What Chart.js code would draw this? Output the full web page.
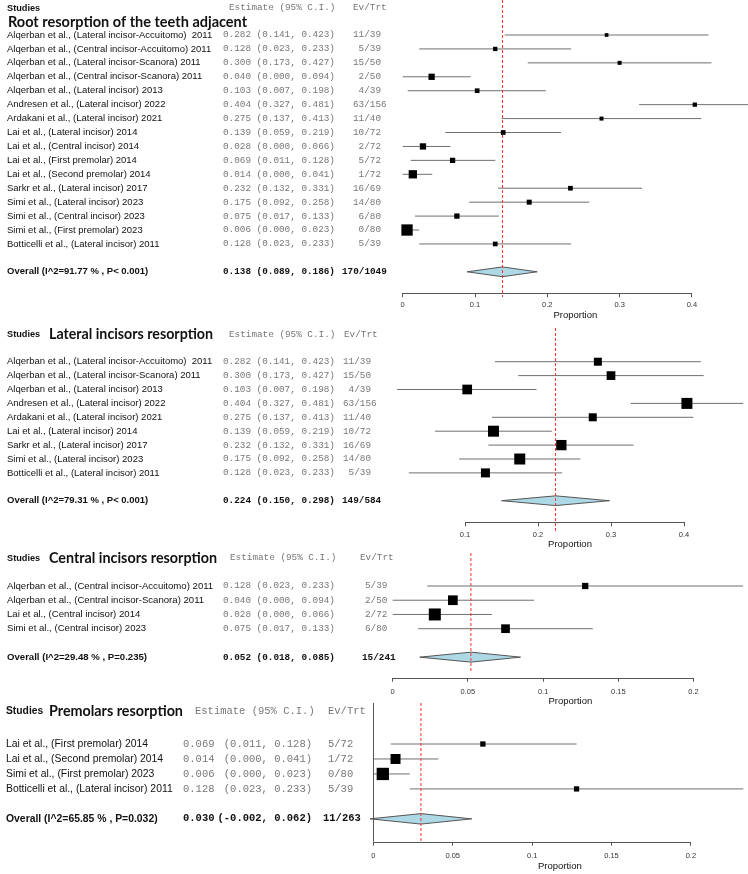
<!DOCTYPE html>
<html>
<head>
<meta charset="utf-8">
<script src="https://cdn.jsdelivr.net/npm/chart.js@4.4.0/dist/chart.umd.min.js"></script>
<style>
  body { margin: 0; background: #fff; }
  #wrap { position: relative; width: 748px; height: 874px; overflow: hidden; background: #fff; }
  canvas { position: absolute; left: 0; }
</style>
</head>
<body>
<div id="wrap">
  <canvas id="c1" width="748" height="330" style="top:0px"></canvas>
  <canvas id="c2" width="748" height="240" style="top:318px"></canvas>
  <canvas id="c3" width="748" height="166" style="top:545px"></canvas>
  <canvas id="c4" width="748" height="176" style="top:698px"></canvas>
</div>
<script>
// ---- data ----
const titles = ['Root resorption of the teeth adjacent', 'Lateral incisors resorption',
  'Central incisors resorption', 'Premolars resorption'];

const names1 = [
  'Alqerban et al., (Lateral incisor-Accuitomo)  2011',
  'Alqerban et al., (Central incisor-Accuitomo) 2011',
  'Alqerban et al., (Lateral incisor-Scanora) 2011',
  'Alqerban et al., (Central incisor-Scanora) 2011',
  'Alqerban et al., (Lateral incisor) 2013',
  'Andresen et al., (Lateral incisor) 2022',
  'Ardakani et al., (Lateral incisor) 2021',
  'Lai et al., (Lateral incisor) 2014',
  'Lai et al., (Central incisor) 2014',
  'Lai et al., (First premolar) 2014',
  'Lai et al., (Second premolar) 2014',
  'Sarkr et al., (Lateral incisor) 2017',
  'Simi et al., (Lateral incisor) 2023',
  'Simi et al., (Central incisor) 2023',
  'Simi et al., (First premolar) 2023',
  'Botticelli et al., (Lateral incisor) 2011'
];
const est1 = [0.282, 0.128, 0.300, 0.040, 0.103, 0.404, 0.275, 0.139, 0.028, 0.069, 0.014, 0.232, 0.175, 0.075, 0.006, 0.128];
const lo1  = [0.141, 0.023, 0.173, 0.000, 0.007, 0.327, 0.137, 0.059, 0.000, 0.011, 0.000, 0.132, 0.092, 0.017, 0.000, 0.023];
const hi1  = [0.423, 0.233, 0.427, 0.094, 0.198, 0.481, 0.413, 0.219, 0.066, 0.128, 0.041, 0.331, 0.258, 0.133, 0.023, 0.233];
const ev1  = [11, 5, 15, 2, 4, 63, 11, 10, 2, 5, 1, 16, 14, 6, 0, 5];
const n1   = [39, 39, 50, 50, 39, 156, 40, 72, 72, 72, 72, 69, 80, 80, 80, 39];
const wt1  = [3.7, 4.3, 4, 6.3, 4.7, 4.3, 4, 4.7, 6.3, 5.3, 8.3, 4.7, 5, 5.3, 11.3, 4.7];

const names2 = [
  'Alqerban et al., (Lateral incisor-Accuitomo)  2011',
  'Alqerban et al., (Lateral incisor-Scanora) 2011',
  'Alqerban et al., (Lateral incisor) 2013',
  'Andresen et al., (Lateral incisor) 2022',
  'Ardakani et al., (Lateral incisor) 2021',
  'Lai et al., (Lateral incisor) 2014',
  'Sarkr et al., (Lateral incisor) 2017',
  'Simi et al., (Lateral incisor) 2023',
  'Botticelli et al., (Lateral incisor) 2011'
];
const est2 = [0.282, 0.300, 0.103, 0.404, 0.275, 0.139, 0.232, 0.175, 0.128];
const lo2  = [0.141, 0.173, 0.007, 0.327, 0.137, 0.059, 0.132, 0.092, 0.023];
const hi2  = [0.423, 0.427, 0.198, 0.481, 0.413, 0.219, 0.331, 0.258, 0.233];
const ev2  = [11, 15, 4, 63, 11, 10, 16, 14, 5];
const n2   = [39, 50, 39, 156, 40, 72, 69, 80, 39];
const wt2  = [8, 8.7, 9.7, 11, 8, 11, 10.3, 11, 9];

const names3 = [
  'Alqerban et al., (Central incisor-Accuitomo) 2011',
  'Alqerban et al., (Central incisor-Scanora) 2011',
  'Lai et al., (Central incisor) 2014',
  'Simi et al., (Central incisor) 2023'
];
const est3 = [0.128, 0.040, 0.028, 0.075];
const lo3  = [0.023, 0.000, 0.000, 0.017];
const hi3  = [0.233, 0.094, 0.066, 0.133];
const ev3  = [5, 2, 2, 6];
const n3   = [39, 50, 72, 80];
const wt3  = [6.3, 9.7, 12, 8.7];

const names4 = [
  'Lai et al., (First premolar) 2014',
  'Lai et al., (Second premolar) 2014',
  'Simi et al., (First premolar) 2023',
  'Botticelli et al., (Lateral incisor) 2011'
];
const est4 = [0.069, 0.014, 0.006, 0.128];
const lo4  = [0.011, 0.000, 0.000, 0.023];
const hi4  = [0.128, 0.041, 0.023, 0.233];
const ev4  = [5, 1, 0, 5];
const n4   = [72, 72, 80, 39];
const wt4  = [5.3, 10, 12.3, 5.3];

const overallLabel = ['Overall (I^2=91.77 % , P< 0.001)', 'Overall (I^2=79.31 % , P< 0.001)',
  'Overall (I^2=29.48 % , P=0.235)', 'Overall (I^2=65.85 % , P=0.032)'];
const overallEst = [0.138, 0.224, 0.052, 0.030];
const overallLo  = [0.089, 0.150, 0.018, -0.002];
const overallHi  = [0.186, 0.298, 0.085, 0.062];
const overallEv  = [170, 149, 15, 11];
const overallN   = [1049, 584, 241, 263];

const ticks1 = [0, 0.1, 0.2, 0.3, 0.4];
const ticks2 = [0.1, 0.2, 0.3, 0.4];
const ticks3 = [0, 0.05, 0.1, 0.15, 0.2];
const ticks4 = [0, 0.05, 0.1, 0.15, 0.2];
const tickLabels1 = ['0', '0.1', '0.2', '0.3', '0.4'];
const tickLabels2 = ['0.1', '0.2', '0.3', '0.4'];
const tickLabels3 = ['0', '0.05', '0.1', '0.15', '0.2'];
const tickLabels4 = ['0', '0.05', '0.1', '0.15', '0.2'];

// ---- layout ----
const SANS = "'Liberation Sans', Arial, sans-serif";
const MONO = "'Liberation Mono', 'Courier New', monospace";
const AX_H = 30;

const panels = [
  { id: 'c1', k: 0, names: names1, est: est1, lo: lo1, hi: hi1, ev: ev1, n: n1, wt: wt1, ticks: ticks1, tickLabels: tickLabels1,
    top: 0, row0: 35, step: 13.93, chartTopY: 0, axisY: 293.3, redBottomY: 297,
    xMin: 0, xLeft: 402.7, unit: 723, tickPad: 3, titleOff: 22,
    headY: 8, titleY: 22, titleX: 8, titleW: 239, nameX: 7, nameSize: 9.5, studiesSize: 9.2, monoSize: 9.33,
    estHeadX: 229, cntHeadX: 353, estX: 223, ciX: 256.6, ciAlign: 'left', cntX: 353, cntPad: 5, oCntX: 342, zeroLine: false },
  { id: 'c2', k: 1, names: names2, est: est2, lo: lo2, hi: hi2, ev: ev2, n: n2, wt: wt2, ticks: ticks2, tickLabels: tickLabels2,
    top: 318, row0: 361.7, step: 13.9, chartTopY: 328, axisY: 522.3, redBottomY: 532,
    xMin: 0, xLeft: 392, unit: 730, tickPad: 4, titleOff: 21.7,
    headY: 334.3, titleY: 334.3, titleX: 49, titleW: 164, nameX: 7, nameSize: 9.5, studiesSize: 9.2, monoSize: 9.33,
    estHeadX: 229, cntHeadX: 344, estX: 223, ciX: 256.6, ciAlign: 'left', cntX: 343, cntPad: 5, oCntX: 342, zeroLine: false },
  { id: 'c3', k: 2, names: names3, est: est3, lo: lo3, hi: hi3, ev: ev3, n: n3, wt: wt3, ticks: ticks3, tickLabels: tickLabels3,
    top: 545, row0: 586, step: 14.23, chartTopY: 553, axisY: 677.7, redBottomY: 672,
    xMin: 0, xLeft: 392.7, unit: 1504, tickPad: 5.5, titleOff: 23.3,
    headY: 558, titleY: 558, titleX: 49, titleW: 168, nameX: 7, nameSize: 9.6, studiesSize: 9.2, monoSize: 9.33,
    estHeadX: 230, cntHeadX: 360, estX: 223, ciX: 256.6, ciAlign: 'left', cntX: 365, cntPad: 4, oCntX: 362, zeroLine: false },
  { id: 'c4', k: 3, names: names4, est: est4, lo: lo4, hi: hi4, ev: ev4, n: n4, wt: wt4, ticks: ticks4, tickLabels: tickLabels4,
    top: 698, row0: 744, step: 14.97, chartTopY: 703, axisY: 841.7, redBottomY: 841.7,
    xMin: -0.001, xLeft: 371.7, unit: 1588, tickPad: 6.2, titleOff: 24.3,
    headY: 711, titleY: 711, titleX: 49, titleW: 134, nameX: 6, nameSize: 10.4, studiesSize: 10.3, monoSize: 10.5,
    estHeadX: 195, cntHeadX: 328, estX: 183, ciX: 312, ciAlign: 'right', cntX: 328, cntPad: 4, oCntX: 323, zeroLine: true }
];

function fmt(v) { return v.toFixed(3); }

function fitFont(ctx, text, weight, family, width) {
  ctx.font = weight + ' 20px ' + family;
  const s = 20 * width / ctx.measureText(text).width;
  return weight + ' ' + s.toFixed(2) + 'px ' + family;
}

function tablePlugin(p) {
  return {
    id: 'table' + p.k,
    afterDraw(chart) {
      const ctx = chart.ctx, ys = chart.scales.y, xs = chart.scales.x;
      ctx.save();
      // axis line from first to last tick
      ctx.strokeStyle = '#555';
      ctx.lineWidth = 1;
      ctx.beginPath();
      ctx.moveTo(xs.getPixelForValue(p.ticks[0]), Math.round(xs.top) + 0.5);
      ctx.lineTo(xs.getPixelForValue(p.ticks[p.ticks.length - 1]), Math.round(xs.top) + 0.5);
      ctx.stroke();
      if (p.zeroLine) {
        const x0 = Math.round(xs.getPixelForValue(0)) + 0.5;
        ctx.beginPath();
        ctx.moveTo(x0, chart.chartArea.top);
        ctx.lineTo(x0, xs.top);
        ctx.stroke();
      }

      ctx.textBaseline = 'middle';
      ctx.textAlign = 'left';
      const hy = p.headY - p.top;
      ctx.fillStyle = '#111';
      ctx.font = 'bold ' + p.studiesSize + 'px ' + SANS;
      ctx.fillText('Studies', p.nameX, hy);
      ctx.font = fitFont(ctx, titles[p.k], 'bold', "Lato, 'Open Sans', sans-serif", p.titleW);
      ctx.fillText(titles[p.k], p.titleX, p.titleY - p.top);
      ctx.fillStyle = '#777';
      ctx.font = p.monoSize + 'px ' + MONO;
      ctx.fillText('Estimate (95% C.I.)', p.estHeadX, hy);
      ctx.fillText('Ev/Trt', p.cntHeadX, hy);

      const row = (i, name, e, lo, hi, cnt, cntX, bold) => {
        const y = ys.getPixelForValue(i);
        ctx.fillStyle = '#111';
        ctx.textAlign = 'left';
        ctx.font = (bold ? 'bold ' : '') + p.nameSize + 'px ' + SANS;
        ctx.fillText(name, p.nameX, y);
        ctx.fillStyle = bold ? '#111' : '#777';
        ctx.font = (bold ? 'bold ' : '') + p.monoSize + 'px ' + MONO;
        ctx.fillText(fmt(e), p.estX, y);
        ctx.textAlign = p.ciAlign;
        ctx.fillText('(' + fmt(lo) + ', ' + fmt(hi) + ')', p.ciX, y);
        ctx.textAlign = 'left';
        ctx.fillText(cnt, cntX, y);
      };
      p.names.forEach((nm, i) => {
        row(i, nm, p.est[i], p.lo[i], p.hi[i], (p.ev[i] + '/' + p.n[i]).padStart(p.cntPad, ' '), p.cntX, false);
      });
      row(p.names.length + 1, overallLabel[p.k], overallEst[p.k], overallLo[p.k], overallHi[p.k],
        overallEv[p.k] + '/' + overallN[p.k], p.oCntX, true);
      ctx.restore();
    }
  };
}

function makeChart(p) {
  const canvas = document.getElementById(p.id);
  const H = canvas.height, T = p.top;
  const nRows = p.names.length;
  const rowOf = y => (y - p.row0) / p.step;
  const yMin = rowOf(p.chartTopY), yMax = rowOf(p.axisY);
  const xMax = p.xMin + (748 - p.xLeft) / p.unit;

  const whisk = [];
  p.lo.forEach((lo, i) => { whisk.push({ x: lo, y: i }, { x: p.hi[i], y: i }, { x: null, y: null }); });
  const pts = p.est.map((e, i) => ({ x: e, y: i }));
  const oRow = nRows + 1, dh = 0.35;
  const oe = overallEst[p.k], ol = overallLo[p.k], oh = overallHi[p.k];
  const diamond = [{ x: ol, y: oRow }, { x: oe, y: oRow - dh }, { x: oh, y: oRow }, { x: oe, y: oRow + dh }, { x: ol, y: oRow }];
  const refLine = [{ x: oe, y: yMin }, { x: oe, y: rowOf(p.redBottomY) }];

  return new Chart(canvas.getContext('2d'), {
    type: 'scatter',
    data: {
      datasets: [
        { data: pts, order: 0, pointStyle: 'rect', backgroundColor: '#000', borderWidth: 0,
          pointBorderWidth: 0, pointRadius: p.wt.map(w => w / Math.SQRT2), clip: false },
        { data: refLine, order: 1, showLine: true, borderColor: '#ff3030', borderWidth: 1,
          borderDash: [3, 2], pointRadius: 0, clip: false },
        { data: diamond, order: 2, showLine: true, fill: 'shape', backgroundColor: '#add8e6',
          borderColor: '#555', borderWidth: 1, pointRadius: 0, tension: 0, clip: false },
        { data: whisk, order: 3, showLine: true, borderColor: '#707070', borderWidth: 1,
          pointRadius: 0, spanGaps: false, clip: false }
      ]
    },
    options: {
      responsive: false,
      animation: false,
      events: [],
      layout: { autoPadding: false,
        padding: { left: p.xLeft, right: 0, top: p.chartTopY - T, bottom: H - (p.axisY - T) - AX_H } },
      plugins: { legend: { display: false }, tooltip: { enabled: false } },
      scales: {
        y: { type: 'linear', reverse: true, min: yMin, max: yMax, display: false },
        x: {
          type: 'linear', min: p.xMin, max: xMax,
          afterBuildTicks: s => { s.ticks = p.ticks.map(v => ({ value: v })); },
          afterFit: s => { s.height = AX_H; },
          border: { display: false },
          grid: { drawOnChartArea: false, drawTicks: true, tickLength: 4, color: '#555', lineWidth: 1 },
          ticks: { autoSkip: false, maxRotation: 0, padding: p.tickPad, color: '#333',
            font: { size: 7.5, family: SANS }, callback: (v, i) => p.tickLabels[i] },
          title: { display: true, text: 'Proportion', color: '#111', font: { size: 9.5, family: SANS },
            padding: { top: 0, bottom: Math.max(0, AX_H - p.titleOff - 5.7) } }
        }
      }
    },
    plugins: [tablePlugin(p)]
  });
}

panels.forEach(makeChart);
</script>
</body>
</html>
